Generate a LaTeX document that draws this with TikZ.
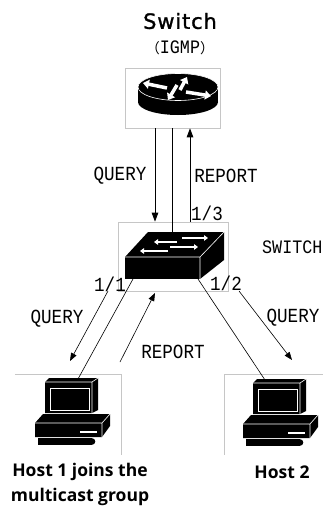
\documentclass[tikz,border=0pt]{standalone}
\usepackage{fontspec}
\setmainfont{Open Sans}
\newfontfamily\labelfont[FakeStretch=0.88]{Liberation Mono}
\newfontfamily\titlefont[FakeBold=1.2, LetterSpace=4]{DejaVu Sans}
\newfontfamily\cjk{Noto Sans CJK SC}
\usetikzlibrary{arrows.meta}

\tikzset{
  devbox/.style={draw=gray!45, line width=0.6pt, inner sep=0pt},
  hostbox/.style={inner sep=0pt, minimum width=106pt, minimum height=81pt},
  boxedge/.style={draw=gray!45, line width=0.6pt},
  msg/.style={font=\labelfont\fontsize{20}{20}\selectfont, inner sep=1pt},
  link/.style={line width=0.9pt},
  flow/.style={line width=0.9pt, -{Triangle[length=9pt,width=6.5pt]}},
  thinflow/.style={line width=0.6pt, -{Triangle[length=8pt,width=6pt]}},
  hostname/.style={font=\bfseries\fontsize{17.5}{25}\selectfont, align=center},
  icon/.style={white, line width=2pt, -{Triangle[length=4pt,width=5.5pt]}},
  bigicon/.style={white, line width=3.5pt, -{Triangle[length=6pt,width=9pt]}},
}

% a small desktop computer, origin at the monitor's top left corner
\newcommand{\desktop}[1]{%
  \begin{scope}[shift={#1}]
    \fill (0,4) -- (4,0) -- (53,0) -- (53,32) -- (47,35) -- (0,35) -- cycle;
    \draw[white, line width=0.6pt] (0,4) -- (47,4) -- (53,0) (47,4) -- (47,35);
    \draw[white, line width=0.8pt] (5,10) rectangle (44,32);
    \fill (-10,45) -- (-2,36) -- (65,36) -- (65,48) -- (57,59) -- (-10,59) -- cycle;
    \draw[white, line width=0.6pt] (-10,45) -- (57,45) -- (65,36) (57,45) -- (57,59);
    \draw[white, line width=1.4pt] (35,54) -- (52,54);
    \fill (-7,60) -- (47,60) -- (47,67) -- (-7,67) -- cycle;
    \fill (47,63.5) circle (3.3pt);
  \end{scope}}

\begin{document}
\begin{tikzpicture}[x=1pt, y=-1pt]
  \useasboundingbox (0,0) rectangle (322,506);

  % title
  \node[font=\titlefont\fontsize{21}{21}\selectfont] (title) at (180,21) {Switch};
  \node[font=\labelfont\fontsize{19}{19}\selectfont] (igmp) at (180,48)
    {{\cjk\fontsize{14}{14}\selectfont （}IGMP{\cjk\fontsize{14}{14}\selectfont ）}};

  % device frames
  \node[devbox, minimum width=95pt, minimum height=60pt] (rtr) at (172.5,98) {};
  \node[devbox, minimum width=110pt, minimum height=69pt] (sw) at (173,256.5) {};
  \node[hostbox] (h1) at (68,414.5) {};
  \node[hostbox] (h2) at (277,414.5) {};
  \draw[boxedge] (h1.north west) -- (h1.north east) -- (h1.south east);
  \draw[boxedge] (h2.north east) -- (h2.north west) -- (h2.south west);

  % router
  \fill (138,88) rectangle (218,102);
  \fill (178,102) ellipse [x radius=40, y radius=13];
  \filldraw[draw=white, line width=0.6pt] (178,87) ellipse [x radius=40, y radius=13.5];
  \draw[bigicon] (167,88) -- (143,83);
  \draw[bigicon] (180,90) -- (187,77);
  \draw[bigicon] (186,92) -- (211,96);
  \draw[bigicon] (177,85) -- (168,100);

  % switch
  \fill (125,257) rectangle (200,279);
  \fill (125,257) -- (148,232) -- (224,232) -- (200,257) -- cycle;
  \fill (200,257) -- (224,232) -- (224,260) -- (200,279) -- cycle;
  \draw[white, line width=0.6pt] (125,257) -- (200,257) -- (224,232) (200,257) -- (200,279);
  \draw[icon] (182,238) -- (208,238);
  \draw[icon] (177,242) -- (154,242);
  \draw[icon] (170,247) -- (198,247);
  \draw[icon] (168,251) -- (140,251);

  % hosts
  \desktop{(45,378)}
  \desktop{(253,379)}

  % port and cable end points
  \coordinate (up) at (172,233);
  \coordinate (p1) at (133,279);
  \coordinate (p2) at (198,279);
  \coordinate (pc1) at (78,379);
  \coordinate (pc2) at (265,380);
  \coordinate (qx) at (155,0);
  \coordinate (rx) at (190,0);

  % cables
  \draw[link] (rtr.south -| up) -- (up);
  \draw[line width=0.6pt] (p1) -- (pc1);
  \draw[line width=0.6pt] (p2) -- (pc2);

  % messages between router and switch
  \draw[flow] (rtr.south -| qx) -- (sw.north -| qx);
  \draw[flow] (sw.north -| rx) -- (rtr.south -| rx);

  % messages between switch and hosts
  \coordinate (q1s) at (108,291);
  \coordinate (q1e) at (70,361);
  \coordinate (r1s) at (120,362);
  \coordinate (r1e) at (155,293);
  \coordinate (q2s) at (239,291);
  \coordinate (q2e) at (292,360);
  \draw[thinflow] (q1s) -- (q1e);
  \draw[thinflow] (r1s) -- (r1e);
  \draw[thinflow] (q2s) -- (q2e);

  % labels
  \node[msg] (qtop) at (120,176) {QUERY};
  \node[msg] (rtop) at (226,176) {REPORT};
  \node[msg] (port3) at (207,213) {1/3};
  \node[msg, anchor=west, font=\labelfont\fontsize{19}{19}\selectfont] (swname) at (261,247) {SWITCH};
  \node[msg] (port1) at (110,284) {1/1};
  \node[msg] (port2) at (226,283) {1/2};
  \node[msg] (q1) at (57,319) {QUERY};
  \node[msg] (r1) at (173,352) {REPORT};
  \node[msg] (q2) at (293,318) {QUERY};

  \node[hostname] (h1name) at (80,484) {Host 1 joins the\\multicast group};
  \node[hostname] (h2name) at (282,472) {Host 2};
\end{tikzpicture}
\end{document}
